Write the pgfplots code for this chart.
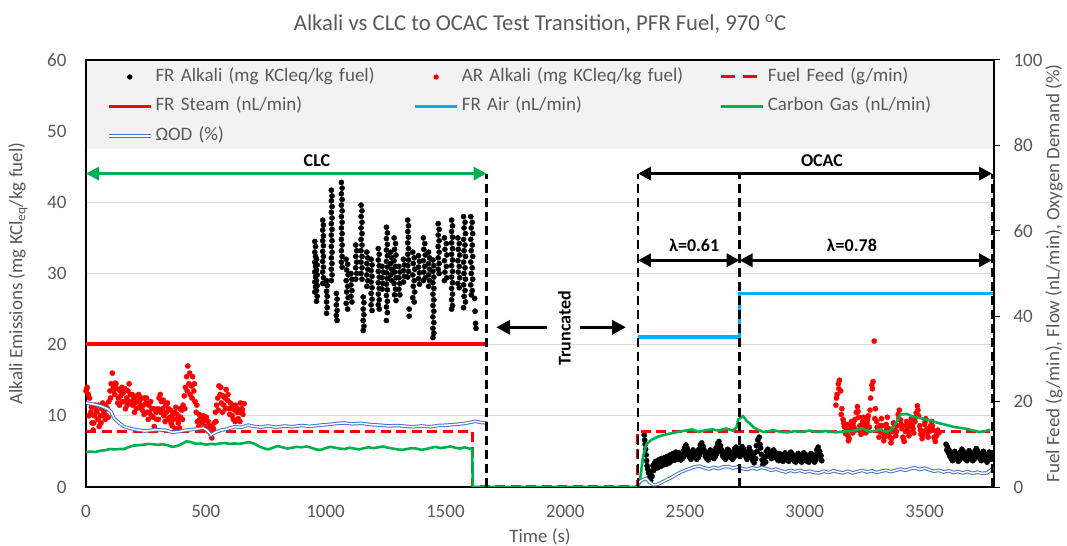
\documentclass[border=0pt]{standalone}
\usepackage{fontspec}
\setmainfont{Carlito}
\usepackage{pgfplots}
\pgfplotsset{compat=1.18}
\usetikzlibrary{arrows.meta}

\definecolor{txtgray}{HTML}{595959}
\definecolor{gridgray}{HTML}{D9D9D9}
\definecolor{legendfill}{HTML}{F2F2F2}
\definecolor{xlred}{HTML}{FF0000}
\definecolor{xlblue}{HTML}{00B0F0}
\definecolor{xlgreen}{HTML}{00B050}
\definecolor{odblue}{HTML}{4472C4}

\pgfplotsset{
  my line leg/.style={legend image code/.code={\draw[##1] (0bp,0bp) -- (42bp,0bp);}},
  my dot leg/.style={legend image code/.code={\path (0bp,0bp) (42bp,0bp);\draw[##1] plot coordinates {(21bp,0bp)};}},
  od style/.style={draw=odblue, line width=1bp, double=white, double distance=1.5bp},
}
\tikzset{annot/.style={font=\bfseries\fontsize{18bp}{20bp}\selectfont, text=black}}

\begin{document}
\begin{tikzpicture}[font=\fontsize{19bp}{23bp}\selectfont]
\path[use as bounding box] (-86bp,-59bp) rectangle (981bp,487bp);

% left axis: alkali emissions
\begin{axis}[
  scale only axis, width=908bp, height=427bp,
  xmin=0, xmax=3790, ymin=0, ymax=60,
  xtick={0,500,...,3500}, ytick={0,10,...,60},
  major tick length=0pt,
  ymajorgrids, grid style={gridgray, line width=0.8bp},
  axis line style={black, line width=1.2bp},
  tick label style={text=txtgray},
  /pgf/number format/assume math mode=true,
  /pgf/number format/1000 sep={},
  xticklabel style={yshift=-15bp},
  yticklabel style={xshift=-16bp},
  xlabel={Time (s)},
  ylabel={Alkali Emissions (mg KCl\textsubscript{eq}/kg fuel)},
  every axis x label/.style={at={(axis description cs:0.5,0)}, anchor=center, yshift=-50bp, text=txtgray},
  every axis y label/.style={at={(axis description cs:0,0.5)}, xshift=-68bp, rotate=90, anchor=center, text=txtgray},
]
\fill[legendfill] (axis cs:6,47.5) rectangle (axis cs:3784,59.85);

% FR Alkali
\addplot[only marks, mark=*, mark size=2.6bp, black] coordinates {
(955,34.5)(958,33.8)(955,33.0)(958,32.4)(955,31.6)(958,31.0)(955,30.2)(958,29.5)(955,28.8)(958,28.1)(955,27.4)
(962,32.0)(965,31.2)(962,30.5)(965,29.8)(962,29.0)(965,28.3)(962,27.6)(965,26.8)(962,26.1)
(988,37.5)(991,36.8)(988,36.1)(991,35.3)(988,34.6)(991,33.9)(988,33.1)(991,32.4)(988,31.7)(991,30.9)(988,30.2)(991,29.4)(988,28.6)
(1004,29.0)(1007,28.3)(1004,27.5)(1007,26.8)(1004,26.0)(1007,25.2)(1004,24.4)
(1024,41.7)(1027,40.9)(1024,40.2)(1027,39.4)(1024,38.6)(1027,37.8)(1024,37.0)(1027,36.2)(1024,35.4)(1027,34.6)(1024,33.8)(1027,33.0)(1024,32.2)(1027,31.4)(1024,30.6)(1027,29.8)(1024,29.0)
(1045,27.2)(1048,26.4)(1045,25.6)(1048,24.8)(1045,24.1)(1048,23.4)
(1066,42.8)(1069,42.0)(1066,41.2)(1069,40.4)(1066,39.6)(1069,38.8)(1066,38.0)(1069,37.2)(1066,36.4)(1069,35.6)(1066,34.8)(1069,34.0)(1066,33.2)(1069,32.4)(1066,31.6)(1069,30.9)
(1086,32.0)(1092,31.3)(1088,30.5)(1094,29.8)(1086,29.0)(1092,28.2)(1088,27.4)(1094,26.6)(1086,25.8)(1092,25.0)
(1106,30.0)(1110,29.2)(1106,28.4)(1110,27.6)(1106,26.8)(1110,26.0)
(1126,34.0)(1130,33.2)(1126,32.4)(1130,31.6)(1126,30.8)(1130,30.0)(1126,29.2)
(1148,39.6)(1152,38.8)(1148,38.0)(1152,37.2)(1148,36.4)(1152,35.6)(1148,34.8)(1152,34.0)(1148,33.2)(1152,32.4)(1148,31.6)(1152,30.8)(1148,30.0)(1152,29.2)
(1157,26.7)(1160,25.9)(1157,25.0)(1160,24.2)(1157,23.4)(1160,22.6)(1157,22.0)
(1172,33.0)(1176,32.2)(1172,31.4)(1176,30.6)(1172,29.8)(1176,29.0)(1172,28.2)
(1190,32.0)(1194,31.2)(1190,30.4)(1194,29.6)(1190,28.8)(1194,28.0)(1190,27.2)(1194,26.4)(1190,25.6)(1194,24.8)
(1220,33.5)(1224,32.7)(1220,31.9)(1224,31.1)(1220,30.3)(1224,29.5)(1220,28.7)(1224,27.9)(1220,27.1)(1224,26.3)(1220,25.6)(1224,25.0)
(1236,31.0)(1240,30.2)(1236,29.4)(1240,28.6)(1236,27.8)
(1254,36.5)(1258,35.7)(1254,34.9)(1258,34.1)(1254,33.3)(1258,32.5)(1254,31.7)(1258,30.9)(1254,30.1)(1258,29.3)(1254,28.5)(1258,27.7)(1254,26.9)(1258,26.1)(1254,25.3)(1258,24.5)(1254,23.4)
(1272,33.0)(1276,32.2)(1272,31.4)(1276,30.6)(1272,29.8)(1276,29.0)
(1286,35.0)(1292,34.2)(1288,33.4)(1294,32.6)(1286,31.8)(1292,31.0)(1288,30.2)(1294,29.4)(1286,28.6)(1292,27.8)(1288,27.0)(1294,26.2)
(1306,31.0)(1310,30.2)(1306,29.4)(1310,28.6)(1306,27.8)(1310,27.0)
(1325,32.0)(1329,31.2)(1325,30.4)(1329,29.6)(1325,28.8)
(1343,37.5)(1346,36.7)(1343,35.9)(1346,35.1)(1343,34.3)(1346,33.5)(1343,32.7)(1346,31.9)(1343,31.1)(1346,30.3)(1343,29.5)
(1349,25.0)(1349,24.0)
(1364,33.0)(1370,32.2)(1366,31.4)(1372,30.6)(1364,29.8)(1370,29.0)(1366,28.2)(1372,27.4)(1364,26.6)(1370,26.0)
(1388,32.5)(1392,31.7)(1388,30.9)(1392,30.1)(1388,29.3)(1392,28.5)
(1408,35.0)(1414,34.2)(1410,33.4)(1416,32.6)(1408,31.8)(1414,31.0)(1410,30.2)(1416,29.4)(1408,29.0)
(1430,33.0)(1434,32.2)(1430,31.4)(1434,30.6)(1430,29.8)(1434,29.0)(1430,28.2)
(1448,31.9)(1452,31.1)(1448,30.3)(1452,29.5)(1448,28.7)(1452,27.9)(1448,27.1)(1452,26.3)(1448,25.5)(1452,24.7)(1448,23.9)(1452,23.1)(1448,22.3)(1452,21.6)(1448,21.0)
(1470,37.0)(1474,36.2)(1470,35.4)(1474,34.6)(1470,33.8)(1474,33.0)(1470,32.2)(1474,31.4)(1470,30.6)(1474,30.0)
(1496,35.0)(1504,34.2)(1498,33.4)(1506,32.6)(1496,31.8)(1504,31.0)(1498,30.2)(1506,29.4)(1496,29.0)
(1526,37.5)(1530,36.7)(1526,35.9)(1530,35.1)(1526,34.3)(1530,33.5)(1526,32.7)(1530,31.9)(1526,31.1)(1530,30.3)(1526,29.5)(1530,28.7)(1526,27.9)(1530,27.1)(1526,26.3)(1530,25.5)(1526,25.0)
(1552,35.0)(1558,34.2)(1554,33.4)(1560,32.6)(1552,31.8)(1558,31.0)(1554,30.2)(1560,29.4)(1552,28.6)(1558,28.0)
(1576,38.0)(1582,37.2)(1578,36.4)(1584,35.6)(1576,34.8)(1582,34.0)(1578,33.2)(1584,32.4)(1576,31.6)(1582,30.8)(1578,30.0)(1584,29.2)(1576,28.4)(1582,27.6)(1578,26.8)(1584,26.0)(1576,25.2)
(1606,38.0)(1612,37.2)(1608,36.4)(1614,35.6)(1606,34.8)(1612,34.0)(1608,33.2)(1614,32.4)(1606,31.6)(1612,30.8)(1608,30.0)(1614,29.2)(1606,28.4)(1612,27.6)(1608,27.0)
(1622,26.5)(1624,24.7)(1626,23.0)(1628,22.3)
(2330,7.3)(2332,6.6)(2334,6)(2336,5.3)(2338,4.5)(2340,3.7)(2342,3)(2345,2.5)(2348,2)(2351,1.2)(2354,1.5)(2357,0.9)
(2360,2.2)(2363,1.5)(2366,3.0)(2369,2.3)(2372,3.3)(2375,2.6)(2378,3.6)(2381,2.8)(2384,3.4)(2387,2.7)(2390,3.8)(2393,3.0)
(2396,3.6)(2399,2.9)(2402,4.0)(2405,3.2)(2408,3.8)(2411,3.1)(2414,4.1)(2417,3.3)(2420,3.9)(2423,3.2)(2426,4.3)(2429,3.5)
(2432,4.1)(2435,3.4)(2438,4.5)(2441,3.7)(2444,4.4)(2447,3.7)(2450,4.7)(2453,3.9)(2456,4.5)(2459,3.8)(2462,4.9)(2465,4.1)
(2468,4.6)(2471,3.9)(2474,4.8)(2477,4.0)(2480,4.5)(2483,3.8)(2486,4.7)(2489,4.0)(2492,5.0)(2495,4.3)(2498,5.5)(2501,4.7)
(2504,5.9)(2507,5.0)(2510,5.4)(2513,4.6)(2516,4.9)(2519,4.2)(2522,4.6)(2525,3.9)(2528,4.8)(2531,4.1)(2534,5.2)(2537,4.4)
(2540,4.9)(2543,4.2)(2546,4.6)(2549,3.9)(2552,4.8)(2555,4.1)(2558,5.3)(2561,4.5)(2564,5.9)(2567,5.1)(2570,6.2)(2573,5.4)
(2576,5.7)(2579,4.9)(2582,5.1)(2585,4.3)(2588,4.7)(2591,4.0)(2594,4.5)(2597,3.8)(2600,4.8)(2603,4.1)(2606,5.2)(2609,4.4)
(2612,5.0)(2615,4.3)(2618,4.7)(2621,4.0)(2624,5.0)(2627,4.3)(2630,5.5)(2633,4.7)(2636,6.1)(2639,5.3)(2642,6.4)(2645,5.6)
(2648,5.8)(2651,5.0)(2654,5.2)(2657,4.4)(2660,4.8)(2663,4.1)(2666,4.6)(2669,3.9)(2672,4.9)(2675,4.2)(2678,5.3)(2681,4.5)
(2684,5.1)(2687,4.4)(2690,4.8)(2693,4.1)(2696,4.6)(2699,3.9)(2702,4.9)(2705,4.2)(2708,5.4)(2711,4.6)(2714,5.6)(2717,4.8)
(2720,5.2)(2723,4.5)(2726,5.0)(2729,4.3)(2732,5.3)(2735,4.5)(2738,5.7)(2741,4.9)(2744,5.4)(2747,4.6)(2750,5.0)(2753,4.3)
(2756,4.6)(2759,3.9)(2762,4.9)(2765,4.2)(2768,5.5)(2771,4.7)(2774,5.0)(2777,4.2)(2780,4.4)(2783,3.7)(2786,4.1)(2789,3.4)
(2792,4.8)(2795,4.0)(2798,5.8)(2801,5.0)(2804,6.6)(2807,5.8)(2810,7.0)(2813,6.0)(2816,5.5)(2819,4.6)(2822,3.8)(2825,3.1)
(2828,3.4)(2831,3.6)(2834,4.2)(2837,3.5)(2840,5.0)(2843,4.3)(2846,5.3)(2849,4.6)(2852,5.0)(2855,4.3)(2858,4.7)(2861,4.0)
(2864,4.9)(2867,4.2)(2870,5.2)(2873,4.4)(2876,4.9)(2879,4.2)(2882,4.6)(2885,3.9)(2888,4.4)(2891,3.7)(2894,4.7)(2897,4.0)
(2900,4.5)(2903,3.8)(2906,4.3)(2909,3.6)(2912,4.6)(2915,3.9)(2918,4.8)(2921,4.1)(2924,4.5)(2927,3.8)(2930,4.3)(2933,3.6)
(2936,4.6)(2939,3.9)(2942,4.9)(2945,4.2)(2948,4.6)(2951,3.9)(2954,4.3)(2957,3.6)(2960,4.1)(2963,3.5)(2966,4.4)(2969,3.7)
(2972,4.7)(2975,4.0)(2978,4.5)(2981,3.8)(2984,4.2)(2987,3.5)(2990,4.4)(2993,3.7)(2996,4.8)(2999,4.1)(3002,4.6)(3005,3.9)
(3008,4.3)(3011,3.6)(3014,4.1)(3017,3.5)(3020,4.4)(3023,3.7)(3026,4.7)(3029,4.0)(3032,4.5)(3035,3.8)(3038,4.2)(3041,3.5)
(3044,4.5)(3047,3.8)(3050,5.2)(3053,4.4)(3056,5.6)(3059,4.8)(3062,5.0)(3065,4.3)(3068,4.4)(3071,3.7)
(3590,6.0)(3593,5.2)(3596,5.6)(3599,4.8)(3602,5.2)(3605,4.4)(3608,4.8)(3611,4.0)(3614,4.4)(3617,3.7)(3620,4.6)(3623,3.9)
(3626,5.0)(3629,4.2)(3632,4.7)(3635,4.0)(3638,4.3)(3641,3.6)(3644,4.5)(3647,3.8)(3650,4.9)(3653,4.1)(3656,5.3)(3659,4.5)
(3662,5.0)(3665,4.3)(3668,4.6)(3671,3.9)(3674,4.4)(3677,3.7)(3680,4.7)(3683,4.0)(3686,5.1)(3689,4.3)(3692,4.8)(3695,4.1)
(3698,4.4)(3701,3.7)(3704,4.6)(3707,3.9)(3710,5.0)(3713,4.2)(3716,5.4)(3719,4.6)(3722,5.1)(3725,4.3)(3728,4.7)(3731,4.0)
(3734,4.4)(3737,3.7)(3740,4.7)(3743,4.0)(3746,5.0)(3749,4.2)(3752,4.6)(3755,3.9)(3758,4.2)(3761,3.5)(3764,4.5)(3767,3.8)
(3770,4.9)(3773,4.1)(3776,4.6)(3779,3.9)(3782,4.3)
};

% AR Alkali
\addplot[only marks, mark=*, mark size=2.6bp, color=xlred] coordinates {
(0,13.5)(5,14)(10,13)(15,12.5)(20,10.5)(25,9)(30,8)(35,10)
(40,11.5)(45,10.5)(50,9.5)(55,8.5)(60,10)(65,11)(70,11.8)(75,10.5)
(80,9.5)(85,10)(90,11)(95,12)(100,13.5)(105,14.5)(110,16)(115,14)
(120,13)(125,14.5)(130,13.8)(135,12.5)(140,11.5)(145,12.8)(150,14)(155,13.2)
(160,12)(165,11)(170,12.5)(175,13.5)(180,14.5)(185,13)(190,12)(195,11.5)
(200,12.5)(205,11.8)(210,11)(215,12)(220,13)(225,12.2)(230,11.5)(235,10.8)
(240,11.5)(245,12.5)(250,11.8)(255,10.5)(260,9.5)(265,10.5)(270,12)(275,11)
(280,9.8)(285,8.5)(290,8)(295,9.5)(300,11)(305,12.5)(310,13)(315,12)
(320,11)(325,10)(330,9.2)(335,10.5)(340,11.8)(345,11)(350,9.8)(355,9)
(360,8.6)(365,9.5)(370,10.5)(375,11.2)(380,10.2)(385,9)(390,8.3)(395,9.8)
(400,10.8)(405,11.5)(410,12.8)(415,14)(420,15.5)(425,17)(430,14.5)(435,13)
(440,14.2)(445,15.5)(450,13.5)(455,12)(460,10.5)(465,9.2)(470,8.5)(475,9.5)
(480,8.2)(485,9)(490,10)(495,9.3)(500,8.5)(505,8)(510,9.2)(515,8.6)
(520,7.5)(525,6.9)(530,7.8)(535,9)(540,10.5)(545,11.5)(550,12.5)(555,14.2)
(560,13)(565,11.8)(570,10.5)(575,11.5)(580,12.5)(585,13.7)(590,12.2)(595,11)
(600,10.2)(605,11)(610,10)(615,9.5)(620,10.8)(625,11.5)(630,10.5)(635,9.6)
(640,10.5)(645,11.8)(650,11)(655,10.2)(660,11.7)
(2.5,13.8)(12.5,10)(22.5,11.2)(32.5,9)(42.5,10.8)(52.5,11.5)(62.5,9)(72.5,10)
(82.5,11.5)(92.5,9.8)(102.5,12.5)(112.5,13.5)(122.5,14.6)(132.5,11.8)(142.5,13.5)(152.5,12)
(162.5,13.8)(172.5,11.5)(182.5,12)(192.5,13)(202.5,10.5)(212.5,12.8)(222.5,11.2)(232.5,12.5)
(242.5,10.2)(252.5,12.5)(262.5,11.5)(272.5,10)(282.5,11)(292.5,10.5)(302.5,9.5)(312.5,10.5)
(322.5,12.2)(332.5,11.5)(342.5,9.5)(352.5,10.8)(362.5,10.2)(372.5,8.2)(382.5,9.6)(392.5,11)
(402.5,9.5)(412.5,11)(422.5,13.5)(432.5,16)(442.5,12.5)(452.5,14.5)(462.5,11.5)(472.5,10.2)
(482.5,9.8)(492.5,8.2)(502.5,9.8)(512.5,7.8)(522.5,8.5)(532.5,8.2)(542.5,9.2)(552.5,10.8)
(562.5,14)(572.5,12.8)(582.5,11)(592.5,13)(602.5,11.8)(612.5,11.5)(622.5,9.2)(632.5,11)
(642.5,9.2)(652.5,10.8)
(3130,11.5)(3135,13)(3140,14.5)(3145,15)(3150,13.5)(3155,11)(3160,9.5)(3165,8.5)
(3170,7.5)(3175,8.8)(3180,7.2)(3185,6.8)(3190,8)(3195,9.2)(3200,7.6)(3205,8.4)
(3210,9.5)(3215,10.5)(3220,11.3)(3225,9.8)(3230,8.6)(3235,7.4)(3240,8.8)(3245,9.8)
(3250,8.5)(3255,7.6)(3260,9)(3265,10)(3270,8.4)(3275,12.5)(3280,14.3)(3285,14.8)
(3290,20.5)(3295,11)(3300,9.2)(3305,8)(3310,7)(3315,8.6)(3320,9.6)(3325,7.6)
(3330,6.5)(3335,7.4)(3340,8.8)(3345,9.8)(3350,8.2)(3355,7)(3360,6.2)(3365,7.8)
(3370,9)(3375,8)(3380,7.2)(3385,8.6)(3390,10.2)(3395,10.8)(3400,9.4)(3405,8.2)
(3410,7)(3415,6.4)(3420,7.8)(3425,9.2)(3430,8.4)(3435,7.2)(3440,8.6)(3445,9.6)
(3450,8.8)(3455,7.6)(3460,9.2)(3465,10.4)(3470,11.4)(3475,10)(3480,8.6)(3485,7.4)
(3490,6.8)(3495,7.8)(3500,8.8)(3505,9.6)(3510,8.2)(3515,7)(3520,7.8)(3525,8.6)
(3530,9.2)(3535,8)(3540,7)(3545,6.4)(3550,7.2)(3555,8)(3560,7.6)
(3132.5,12.5)(3142.5,13.8)(3152.5,10.2)(3162.5,9)(3172.5,8.2)(3182.5,6.5)(3192.5,8.6)(3202.5,9.0)
(3212.5,8.0)(3222.5,10.6)(3232.5,7.8)(3242.5,9.2)(3252.5,8.0)(3262.5,9.5)(3272.5,10.8)(3282.5,13.8)
(3292.5,9.6)(3302.5,8.4)(3312.5,7.8)(3322.5,8.6)(3332.5,7.0)(3342.5,8.2)(3352.5,7.6)(3362.5,6.8)
(3372.5,8.4)(3382.5,7.8)(3392.5,9.6)(3402.5,8.8)(3412.5,6.8)(3422.5,8.6)(3432.5,7.8)(3442.5,9.0)
(3452.5,8.2)(3462.5,9.8)(3472.5,10.8)(3482.5,8.0)(3492.5,7.2)(3502.5,9.2)(3512.5,7.6)(3522.5,8.2)
(3532.5,8.6)(3542.5,6.8)(3552.5,7.6)
};
\end{axis}

% right axis: feed, flows, oxygen demand
\begin{axis}[
  scale only axis, width=908bp, height=427bp,
  xmin=0, xmax=3790, ymin=0, ymax=100,
  axis x line=none, axis y line*=right,
  ytick={0,20,...,100},
  axis line style={black, line width=1.2bp},
  ytick style={black, line width=1bp},
  major tick length=6bp, tick align=outside,
  tick label style={text=txtgray},
  /pgf/number format/assume math mode=true,
  yticklabel style={xshift=10bp},
  ylabel={Fuel Feed (g/min), Flow (nL/min), Oxygen Demand (\%)},
  every axis y label/.style={at={(axis description cs:1,0.5)}, xshift=60bp, rotate=90, anchor=center, text=txtgray},
  title={Alkali vs CLC to OCAC Test Transition, PFR Fuel, 970 \textsuperscript{o}C},
  title style={at={(axis description cs:0.5,1)}, anchor=base, yshift=24bp, font=\fontsize{22.7bp}{26bp}\selectfont, text=txtgray},
  unbounded coords=jump,
  legend columns=3, legend cell align=left,
  legend style={at={(0,1)}, anchor=north west, xshift=21bp, yshift=-7.5bp,
    draw=none, fill=none, inner sep=0pt, outer sep=0pt, row sep=10.5bp,
    /tikz/every odd column/.append style={column sep=1bp},
    /tikz/every even column/.append style={column sep=16bp},
    nodes={text width=240bp, text height=14bp, text depth=5bp, inner xsep=2bp, inner ysep=0pt, text=txtgray, align=left}},
]
% Fuel feed
\addplot[forget plot, xlred, line width=3bp, dash pattern=on 10bp off 5.5bp] coordinates {
(0,13.1)(1615,13.1)(1615,0)(2304,0)(2304,13.1)(3775,13.1)};

\addlegendimage{my dot leg, only marks, mark=*, mark size=2.4bp, black}
\addlegendentry{FR Alkali (mg KCleq/kg fuel)}
\addlegendimage{my dot leg, only marks, mark=*, mark size=2.4bp, xlred}
\addlegendentry{AR Alkali (mg KCleq/kg fuel)}
\addlegendimage{my line leg, xlred, line width=3bp, dash pattern=on 14bp off 8bp}
\addlegendentry{Fuel Feed (g/min)}

% FR steam
\addplot[my line leg, xlred, line width=3.3bp] coordinates {(0,33.5)(1675,33.5)};
\addlegendentry{FR Steam (nL/min)}

% FR air
\addplot[my line leg, xlblue, line width=3.3bp] coordinates {
(2304,35.1)(2728,35.1)(2728,45.3)(3785,45.3)};
\addlegendentry{FR Air (nL/min)}

% carbon gas
\addplot[my line leg, xlgreen, line width=2.6bp] coordinates {
(0,8.2)(20,8.3)(40,8.2)(60,8.5)(80,8.6)(100,8.9)(120,8.8)(140,8.9)(160,8.9)(180,9.4)
(200,9.7)(220,9.8)(240,9.9)(260,10.1)(280,10.0)(300,9.9)(320,10.0)(340,9.8)(360,9.4)(380,9.6)
(400,10.1)(420,10.7)(440,10.5)(460,10.1)(480,10.2)(500,9.9)(520,10.1)(540,10.0)(560,10.2)(580,10.3)
(600,10.1)(620,10.2)(640,10.1)(660,10.3)(680,10.5)(700,10.2)(720,9.6)(740,9.1)(760,8.8)(780,9.2)
(800,9.6)(820,9.3)(840,9.0)(860,9.2)(880,9.4)(900,9.3)(920,9.5)(940,9.2)(960,8.8)(980,8.7)
(1000,9.1)(1020,9.4)(1040,9.2)(1060,9.0)(1080,8.9)(1100,9.2)(1120,9.0)(1140,8.8)(1160,9.1)(1180,9.3)
(1200,9.1)(1220,9.3)(1240,9.5)(1260,9.2)(1280,9.0)(1300,8.8)(1320,8.7)(1340,8.9)(1360,9.1)(1380,9.0)
(1400,8.7)(1420,8.9)(1440,9.2)(1460,9.4)(1480,9.1)(1500,9.3)(1520,9.5)(1540,9.2)(1560,9.0)(1580,9.3)
(1600,9.0)(1612,8.9)(1615,0)(2304,0)
(2310,0.8)(2318,4)(2325,7.1)(2339,10)(2359,11)(2388,11.8)(2420,12.3)(2445,12.6)(2470,12.9)(2500,13.2)
(2530,13.5)(2558,12.9)(2585,13.3)(2615,13.5)(2640,13.2)(2672,13.7)(2700,13.2)(2716,14.0)(2722,15.8)(2742,16.6)
(2757,15.5)(2772,14.8)(2786,14.0)(2805,13.4)(2828,12.9)(2850,13.1)(2871,13.3)(2900,12.9)(2929,12.8)(2960,13.1)
(2986,12.9)(3020,13.2)(3057,12.9)(3090,13.1)(3128,12.8)(3165,13.0)(3200,13.1)(3225,13.5)(3243,13.7)(3271,12.9)
(3295,13.2)(3314,13.4)(3342,12.9)(3360,13.3)(3371,14.0)(3385,15.5)(3400,17.0)(3428,17.1)(3445,16.6)(3457,16.4)
(3485,16.1)(3505,15.8)(3528,15.5)(3550,15.1)(3571,14.8)(3600,14.4)(3628,14.0)(3655,13.8)(3685,13.5)(3705,13.2)
(3728,12.9)(3750,13.0)(3764,13.3)(3775,13.4)};
\addlegendentry{Carbon Gas (nL/min)}

% oxygen demand
\addplot[my line leg, od style] coordinates {
(0,19.7)(30,19.4)(60,19.0)(90,18.3)(105,17.6)(117,16.1)(140,14.9)(160,14.1)(200,13.5)(246,13.1)
(290,13.4)(332,13.3)(361,12.8)(390,13.0)(418,13.3)(450,13.5)(490,13.8)(505,13.3)(522,12.2)(540,12.8)
(562,13.3)(590,13.6)(619,14.1)(650,14.0)(677,14.5)(700,14.2)(730,14.0)(760,14.3)(792,14.0)(830,14.3)
(860,14.1)(900,14.4)(935,14.2)(980,14.5)(1022,14.7)(1050,14.9)(1079,15.0)(1110,14.8)(1151,14.9)(1190,14.6)
(1223,14.5)(1260,14.3)(1300,14.4)(1340,14.2)(1366,14.1)(1400,14.3)(1438,14.1)(1470,14.4)(1510,14.5)(1550,14.7)
(1582,14.9)(1610,15.2)(1625,15.4)(1650,15.1)(1675,15.0)(1700,nan)
(2304,0.9)(2320,1.6)(2339,2.0)(2352,1.1)(2368,0.5)(2384,0.6)(2400,1.0)(2420,1.6)(2440,2.1)(2460,2.8)
(2480,3.4)(2500,3.9)(2520,4.3)(2540,4.7)(2560,4.9)(2580,4.5)(2600,4.2)(2620,4.6)(2640,4.3)(2660,4.7)
(2680,4.8)(2700,4.4)(2720,4.7)(2740,4.3)(2760,4.1)(2780,4.5)(2800,4.2)(2820,4.6)(2840,4.3)(2860,3.9)
(2880,4.2)(2900,3.8)(2920,3.5)(2940,3.9)(2960,3.6)(2980,3.9)(3000,3.5)(3020,3.7)(3040,3.4)(3060,3.3)
(3080,3.7)(3100,3.4)(3120,3.8)(3140,3.5)(3160,3.3)(3180,3.7)(3200,3.3)(3220,3.6)(3240,3.9)(3260,3.5)
(3280,3.8)(3300,3.4)(3320,3.7)(3340,3.9)(3360,3.6)(3380,3.9)(3400,4.2)(3420,3.9)(3440,4.3)(3460,4.5)
(3480,4.1)(3500,4.4)(3520,4.0)(3540,3.7)(3560,3.9)(3580,3.5)(3600,3.8)(3620,3.4)(3640,3.6)(3660,3.3)
(3680,3.6)(3700,3.2)(3720,3.5)(3740,3.2)(3760,3.3)(3775,3.9)(3785,4.4)};
\addlegendentry{ΩOD (\%)}

% annotations
\draw[xlgreen, line width=3.5bp, {Triangle[length=13bp,width=13bp]}-{Triangle[length=13bp,width=13bp]}]
  (axis cs:0,73.4) -- (axis cs:1672,73.4);
\node[annot] at (axis cs:964,76.4) {CLC};
\draw[black, line width=2.5bp, dash pattern=on 9bp off 5bp] (axis cs:1672,0) -- (axis cs:1672,73.4);

\draw[black, line width=3.5bp, {Triangle[length=13bp,width=13bp]}-{Triangle[length=13bp,width=13bp]}]
  (axis cs:2304,73.4) -- (axis cs:3782,73.4);
\node[annot] at (axis cs:3072,76.4) {OCAC};
\draw[black, line width=2.5bp, dash pattern=on 9bp off 5bp] (axis cs:2304,0) -- (axis cs:2304,73.4);
\draw[black, line width=2.5bp, dash pattern=on 9bp off 5bp] (axis cs:2728,0) -- (axis cs:2728,73.4);
\draw[black, line width=2.5bp, dash pattern=on 9bp off 5bp] (axis cs:3782,0) -- (axis cs:3782,73.4);

\draw[black, line width=3.5bp, {Triangle[length=13bp,width=13bp]}-{Triangle[length=13bp,width=13bp]}]
  (axis cs:2304,53.1) -- (axis cs:2728,53.1);
\node[annot] at (axis cs:2539,56.6) {λ=0.61};
\draw[black, line width=3.5bp, {Triangle[length=13bp,width=13bp]}-{Triangle[length=13bp,width=13bp]}]
  (axis cs:2728,53.1) -- (axis cs:3782,53.1);
\node[annot] at (axis cs:3197,56.6) {λ=0.78};

\draw[black, line width=3.5bp, -{Triangle[length=14bp,width=14bp]}] (axis cs:1924,37.4) -- (axis cs:1712,37.4);
\draw[black, line width=3.5bp, -{Triangle[length=14bp,width=14bp]}] (axis cs:2062,37.4) -- (axis cs:2254,37.4);
\node[annot, rotate=90] at (axis cs:1997,37.2) {Truncated};
\end{axis}
\end{tikzpicture}
\end{document}
